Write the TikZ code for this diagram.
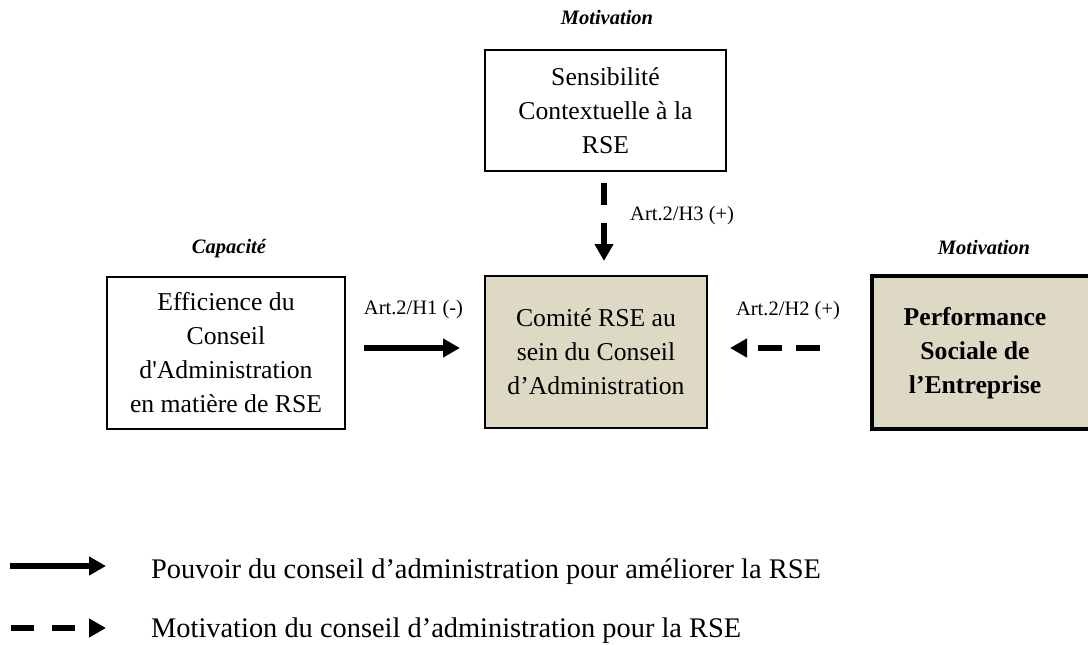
\documentclass[tikz,border=0pt]{standalone}
\usepackage{fontspec}
\setmainfont{Liberation Serif}
\newfontfamily\plainserif{Liberation Serif}
\usetikzlibrary{arrows.meta}
\definecolor{tanfill}{RGB}{221,217,196}
\begin{document}
\begin{tikzpicture}[x=1pt,y=-1pt,
 box/.style={draw=black, line width=1.5pt, inner sep=0pt, align=center, font=\fontsize{25.7}{34}\selectfont},
 lbl/.style={inner sep=0pt, font=\fontsize{20.5}{24}\selectfont},
 cat/.style={inner sep=0pt, font=\fontsize{20.5}{24}\selectfont\bfseries\itshape},
 power/.style={line width=6.5pt, -{Triangle[length=17pt,width=18pt]}},
 motiv/.style={line width=6.5pt, -{Triangle[length=17pt,width=18pt]}},
 legtxt/.style={inner sep=0pt, anchor=base west, font=\fontsize{28.4}{34}\selectfont}
]
\useasboundingbox (0,0) rectangle (1088,645);
\clip (0,0) rectangle (1088,645);

% boxes
\node[box, minimum width=241pt, minimum height=121pt] (sens) at (605.5,110.5) {Sensibilité\\Contextuelle à la\\RSE};
\node[box, minimum width=238pt, minimum height=152pt] (eff) at (226,353) {Efficience du\\Conseil\\d{\plainserif '}Administration\\en matière de RSE};
\node[box, fill=tanfill, minimum width=222pt, minimum height=152pt] (comite) at (596,352) {Comité RSE au\\sein du Conseil\\d’Administration};
\node[draw=black, line width=4pt, fill=tanfill, inner sep=0pt, minimum width=228pt, minimum height=153pt] (perf) at (986,352.5) {};
\node[inner sep=0pt, align=center, font=\fontsize{25.7}{34}\selectfont\bfseries] (perftxt) at (975,353) {Performance\\Sociale de\\l’Entreprise};

% category labels
\node[cat, anchor=base] (c1) at (607,24) {Motivation};
\node[cat, anchor=base] (c2) at (229,253) {Capacité};
\node[cat, anchor=base] (c3) at (984,254) {Motivation};

% arrows
\coordinate (h3s) at (604,183);
\coordinate (h3e) at (604,261);
\draw[motiv, dash pattern=on 22pt off 18pt] (h3s) -- (h3e);
\coordinate (h1s) at (364,348);
\coordinate (h1e) at (460,348);
\draw[power] (h1s) -- (h1e);
\coordinate (h2s) at (820,348);
\coordinate (h2e) at (730,348);
\draw[motiv, dash pattern=on 24pt off 14pt] (h2s) -- (h2e);

% arrow labels
\node[lbl, anchor=base] (l1) at (413.5,314) {Art.2/H1 (-)};
\node[lbl, anchor=base] (l2) at (788,315) {Art.2/H2 (+)};
\node[lbl, anchor=base west] (l3) at (630,220) {Art.2/H3 (+)};

% legend
\coordinate (g1s) at (10,566);
\coordinate (g1e) at (106,566);
\draw[power] (g1s) -- (g1e);
\coordinate (g2s) at (11,628);
\coordinate (g2e) at (106,628);
\draw[motiv, dash pattern=on 23pt off 18pt] (g2s) -- (g2e);
\node[legtxt] (t1) at (151,578) {Pouvoir du conseil d’administration pour améliorer la RSE};
\node[legtxt] (t2) at (151,637) {Motivation du conseil d’administration pour la RSE};
\end{tikzpicture}
\end{document}
